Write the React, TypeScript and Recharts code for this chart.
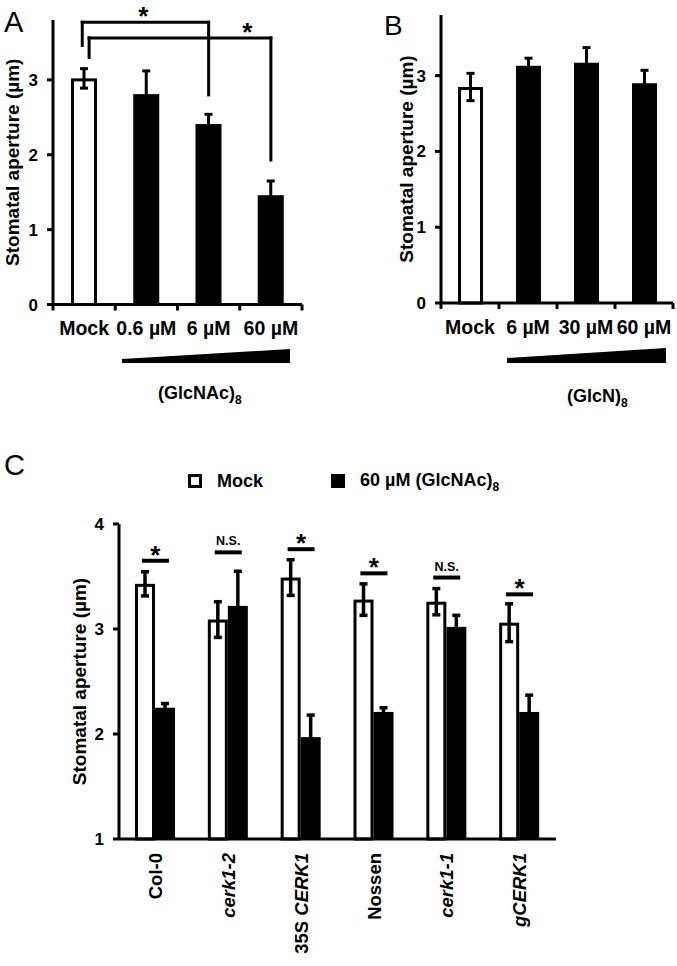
import React from 'react';
import { BarChart, Bar, XAxis, YAxis, Cell, ErrorBar, ReferenceLine, ReferenceDot, Legend } from 'recharts';

const FONT = '"Liberation Sans", Arial, Helvetica, sans-serif';

// Panel A: (GlcNAc)8 dose series
const aCategories = ['Mock', '0.6 µM', '6 µM', '60 µM'];
const aMeans = [3.02, 2.81, 2.41, 1.46];
const aErrors = [0.13, 0.31, 0.13, 0.19];

// Panel B: (GlcN)8 dose series
const bCategories = ['Mock', '6 µM', '30 µM', '60 µM'];
const bMeans = [2.85, 3.13, 3.17, 2.9];
const bErrors = [0.18, 0.1, 0.2, 0.17];

// Panel C: genotypes, mock vs 60 µM (GlcNAc)8
const cGenotypes = ['Col-0', 'cerk1-2', '35S CERK1', 'Nossen', 'cerk1-1', 'gCERK1'];
const cMock = [3.43, 3.09, 3.49, 3.28, 3.26, 3.06];
const cMockErr = [0.115, 0.17, 0.17, 0.15, 0.125, 0.18];
const cGlc = [2.25, 3.22, 1.97, 2.21, 3.02, 2.21];
const cGlcErr = [0.04, 0.33, 0.21, 0.04, 0.11, 0.16];
const cSigY = [3.65, 3.73, 3.76, 3.53, 3.49, 3.33];
const cSigLabel = ['*', 'N.S.', '*', '*', 'N.S.', '*'];
const cSeriesOrder = ['mock', 'glc'];

// Panel A brackets (x on a 0..n category-position scale)
const aBrackets = [
  { x1: 0.47, x2: 2.5, top: 3.77, y1: 3.46, y2: 2.8, starX: 1.45 },
  { x1: 0.58, x2: 3.5, top: 3.56, y1: 3.3, y2: 1.93, starX: 3.12 },
];

const aData = aCategories.map((name, i) => ({ name, pos: i + 0.5, mean: aMeans[i], err: aErrors[i] }));
const bData = bCategories.map((name, i) => ({ name, mean: bMeans[i], err: bErrors[i] }));
const cData = cGenotypes.map((name, i) => ({
  name,
  mock: cMock[i],
  mockErr: cMockErr[i],
  glc: cGlc[i],
  glcErr: cGlcErr[i],
}));

const AXIS = { stroke: '#000', strokeWidth: 3 };
const TICK_STYLE = { fill: '#000', fontSize: 17, fontWeight: 'bold', fontFamily: FONT };
const yLabel = (offset: number) => ({
  value: 'Stomatal aperture (µm)',
  angle: -90,
  position: 'insideLeft' as const,
  offset,
  style: { fontSize: 19, fontWeight: 'bold', fill: '#000', fontFamily: FONT, textAnchor: 'middle' },
});

// chart boxes
const A_W = 340, A_RIGHT = 38, A_Y = 53;
const B_W = 337, B_RIGHT = 4, B_Y = 101;

// bar with its outline kept inside the band
const OutlinedBar = (p: any) => {
  const sw = p.stroke && p.stroke !== 'none' ? p.strokeWidth || 0 : 0;
  if (!p.height) return null;
  return (
    <rect
      x={p.x + sw / 2}
      y={p.y + sw / 2}
      width={Math.max(p.width - sw, 0)}
      height={Math.max(p.height - sw / 2, 0)}
      fill={p.fill}
      stroke={sw ? p.stroke : 'none'}
      strokeWidth={sw}
    />
  );
};

// category label plus tick marks on the band edges
const EdgeTick = (props: any) => {
  const { x, y, payload, index, visibleTicksCount, half } = props;
  return (
    <g>
      <line x1={x - half} x2={x - half} y1={y} y2={y + 6} stroke="#000" strokeWidth={3} />
      {index === visibleTicksCount - 1 && (
        <line x1={x + half} x2={x + half} y1={y} y2={y + 6} stroke="#000" strokeWidth={3} />
      )}
      <text x={x} y={y + 17} dy="0.71em" textAnchor="middle" fontSize={19.5} fontWeight="bold" fontFamily={FONT} fill="#000">
        {payload.value}
      </text>
    </g>
  );
};

const GenotypeTick = (props: any) => {
  const { x, y, payload } = props;
  const words = String(payload.value).split(' ');
  return (
    <g transform={`translate(${x},${y})`}>
      <text transform="rotate(-90)" textAnchor="end" dy="0.36em" fontSize={18.5} fontWeight="bold" fontFamily={FONT} fill="#000">
        {words.map((w, i) => (
          <tspan key={i} fontStyle={/cerk/i.test(w) ? 'italic' : 'normal'}>
            {(i ? ' ' : '') + w}
          </tspan>
        ))}
      </text>
    </g>
  );
};

const Star = (p: any) => (
  <text x={p.cx} y={p.cy + 3} textAnchor="middle" fontSize={26} fontWeight="bold" fontFamily={FONT} fill="#000">
    *
  </text>
);

const SigMark = (label: string) => (p: any) => (
  <g>
    <line x1={p.cx - 13.5} x2={p.cx + 13.5} y1={p.cy} y2={p.cy} stroke="#000" strokeWidth={4} />
    {label === '*' ? (
      <text x={p.cx} y={p.cy + 3} textAnchor="middle" fontSize={26} fontWeight="bold" fontFamily={FONT} fill="#000">
        *
      </text>
    ) : (
      <text x={p.cx} y={p.cy - 7} textAnchor="middle" fontSize={12.5} fontWeight="bold" fontFamily={FONT} fill="#000">
        {label}
      </text>
    )}
  </g>
);

const withSub = (text: string) => {
  const m = text.match(/^(.*\))(\d+)$/);
  if (!m) return text;
  return (
    <>
      {m[1]}
      <span style={{ fontSize: 12, position: 'relative', top: 5 }}>{m[2]}</span>
    </>
  );
};

const renderLegend = (props: any) => {
  const items = [...(props.payload || [])].sort(
    (a: any, b: any) => cSeriesOrder.indexOf(a.dataKey) - cSeriesOrder.indexOf(b.dataKey)
  );
  return (
    <div style={{ display: 'flex', alignItems: 'center', fontFamily: FONT, fontWeight: 'bold', fontSize: 18, lineHeight: '20px', color: '#000' }}>
      {items.map((entry: any, i: number) => (
        <div key={i} style={{ display: 'flex', alignItems: 'center', marginRight: i === 0 ? 68 : 0 }}>
          <span
            style={{
              display: 'inline-block',
              boxSizing: 'border-box',
              width: 14,
              height: 14,
              border: '3.5px solid #000',
              background: entry.color,
            }}
          />
          <span style={{ marginLeft: 15 }}>{withSub(String(entry.value))}</span>
        </div>
      ))}
    </div>
  );
};

export default function App() {
  const aHalf = (A_W - A_RIGHT - A_Y) / aCategories.length / 2;
  const bHalf = (B_W - B_RIGHT - B_Y) / bCategories.length / 2;
  return (
    <div style={{ position: 'absolute', left: 0, top: 0, width: 677, height: 966, background: '#fff', fontFamily: FONT }}>
      {/* A */}
      <div style={{ position: 'absolute', left: 0, top: 0 }}>
        <BarChart width={A_W} height={420} data={aData} margin={{ top: 20, right: A_RIGHT, left: 0, bottom: 0 }}>
          <XAxis dataKey="name" interval={0} height={115.5} tick={<EdgeTick half={aHalf} />} tickLine={false} tickSize={0} tickMargin={0} axisLine={AXIS} />
          <XAxis xAxisId="pos" dataKey="pos" type="number" domain={[0, aCategories.length]} allowDataOverflow hide />
          <YAxis width={A_Y} domain={[0, 3.8]} ticks={[0, 1, 2, 3]} tick={TICK_STYLE} tickSize={6} tickMargin={9} tickLine={AXIS} axisLine={AXIS} label={yLabel(12)} />
          <Bar dataKey="mean" barSize={26} isAnimationActive={false} shape={<OutlinedBar />}>
            {aData.map((d, i) => (
              <Cell key={d.name} fill={i === 0 ? '#fff' : '#000'} stroke={i === 0 ? '#000' : 'none'} strokeWidth={i === 0 ? 3 : 0} />
            ))}
            <ErrorBar dataKey="err" width={4} strokeWidth={3} stroke="#000" isAnimationActive={false} />
          </Bar>
          {aBrackets.map((b, i) => (
            <ReferenceLine key={`l${i}`} xAxisId="pos" segment={[{ x: b.x1, y: b.y1 }, { x: b.x1, y: b.top }]} stroke="#000" strokeWidth={3} strokeLinecap="square" ifOverflow="visible" />
          ))}
          {aBrackets.map((b, i) => (
            <ReferenceLine key={`t${i}`} xAxisId="pos" segment={[{ x: b.x1, y: b.top }, { x: b.x2, y: b.top }]} stroke="#000" strokeWidth={3} strokeLinecap="square" ifOverflow="visible" />
          ))}
          {aBrackets.map((b, i) => (
            <ReferenceLine key={`r${i}`} xAxisId="pos" segment={[{ x: b.x2, y: b.top }, { x: b.x2, y: b.y2 }]} stroke="#000" strokeWidth={3} strokeLinecap="square" ifOverflow="visible" />
          ))}
          {aBrackets.map((b, i) => (
            <ReferenceDot key={`s${i}`} xAxisId="pos" x={b.starX} y={b.top} r={0} ifOverflow="visible" shape={Star} />
          ))}
        </BarChart>
      </div>

      {/* B */}
      <div style={{ position: 'absolute', left: 340, top: 0 }}>
        <BarChart width={B_W} height={420} data={bData} margin={{ top: 15, right: B_RIGHT, left: 0, bottom: 0 }}>
          <XAxis dataKey="name" interval={0} height={117} tick={<EdgeTick half={bHalf} />} tickLine={false} tickSize={0} tickMargin={0} axisLine={AXIS} />
          <YAxis width={B_Y} domain={[0, 3.8]} ticks={[0, 1, 2, 3]} tick={TICK_STYLE} tickSize={6} tickMargin={9} tickLine={AXIS} axisLine={AXIS} label={yLabel(66)} />
          <Bar dataKey="mean" barSize={25} isAnimationActive={false} shape={<OutlinedBar />}>
            {bData.map((d, i) => (
              <Cell key={d.name} fill={i === 0 ? '#fff' : '#000'} stroke={i === 0 ? '#000' : 'none'} strokeWidth={i === 0 ? 3 : 0} />
            ))}
            <ErrorBar dataKey="err" width={4} strokeWidth={3} stroke="#000" isAnimationActive={false} />
          </Bar>
        </BarChart>
      </div>

      {/* C */}
      <div style={{ position: 'absolute', left: 0, top: 440 }}>
        <BarChart width={677} height={526} data={cData} margin={{ top: 84, right: 121, left: 0, bottom: 0 }} barGap={0}>
          <XAxis dataKey="name" interval={0} height={127} tick={<GenotypeTick />} tickLine={false} tickSize={0} tickMargin={14} axisLine={AXIS} />
          <YAxis width={119} domain={[1, 4]} ticks={[1, 2, 3, 4]} tick={TICK_STYLE} tickSize={6} tickMargin={9} tickLine={AXIS} axisLine={AXIS} label={yLabel(79)} />
          <Legend layout="horizontal" verticalAlign="middle" align="center" wrapperStyle={{ left: 188, top: 30, width: 'auto' }} content={renderLegend} />
          <Bar dataKey="mock" name="Mock" barSize={20} fill="#fff" stroke="#000" strokeWidth={3} isAnimationActive={false} shape={<OutlinedBar />}>
            <ErrorBar dataKey="mockErr" width={4} strokeWidth={3.5} stroke="#000" isAnimationActive={false} />
          </Bar>
          <Bar dataKey="glc" name="60 µM (GlcNAc)8" barSize={20} fill="#000" isAnimationActive={false} shape={<OutlinedBar />}>
            <ErrorBar dataKey="glcErr" width={4} strokeWidth={3.5} stroke="#000" isAnimationActive={false} />
          </Bar>
          {cGenotypes.map((g, i) => (
            <ReferenceDot key={g} x={g} y={cSigY[i]} r={0} ifOverflow="visible" shape={SigMark(cSigLabel[i])} />
          ))}
        </BarChart>
      </div>

      {/* panel letters, dose wedges and group labels */}
      <svg width={677} height={966} style={{ position: 'absolute', left: 0, top: 0, pointerEvents: 'none' }}>
        <text x={4} y={32} fontSize={29} fontFamily={FONT} fill="#000">A</text>
        <text x={384} y={35} fontSize={28} fontFamily={FONT} fill="#000">B</text>
        <text x={4} y={475} fontSize={29} fontFamily={FONT} fill="#000">C</text>
        <polygon points="122,359 290,349 290,363 122,363" fill="#000" />
        <polygon points="507,358 666,348 666,363 507,363" fill="#000" />
        <text x={158} y={399} fontSize={18} fontWeight="bold" fontFamily={FONT} fill="#000">
          (GlcNAc)<tspan dy={5} fontSize={12}>8</tspan>
        </text>
        <text x={567} y={402} fontSize={18} fontWeight="bold" fontFamily={FONT} fill="#000">
          (GlcN)<tspan dy={5} fontSize={12}>8</tspan>
        </text>
      </svg>
    </div>
  );
}
